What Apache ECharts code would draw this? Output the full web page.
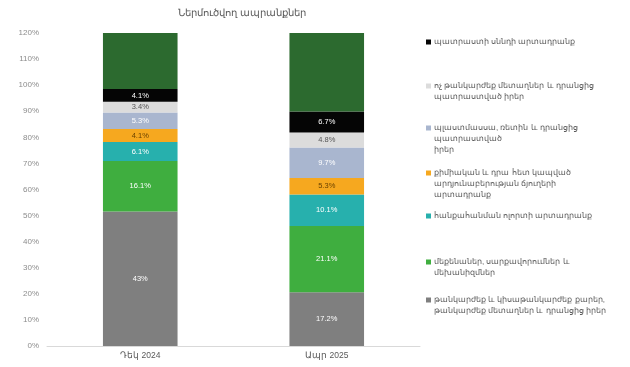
<!DOCTYPE html>
<html><head><meta charset="utf-8">
<script src="https://cdn.jsdelivr.net/npm/echarts@6/dist/echarts.min.js"></script>
<style>html,body{margin:0;padding:0;background:#fff}#c{width:630px;height:367px}</style>
</head><body><div id="c"></div>
<script>
const title = 'Ներմուծվող ապրանքներ';
const categories = ['Դեկ 2024', 'Ապր 2025'];
const yTickLabels = ['0%','10%','20%','30%','40%','50%','60%','70%','80%','90%','100%','110%','120%'];
const seriesNames = [
  'թանկարժեք և կիսաթանկարժեք քարեր, թանկարժեք մետաղներ և դրանցից իրեր',
  'մեքենաներ, սարքավորումներ և մեխանիզմներ',
  'հանքահանման ոլորտի արտադրանք',
  'քիմիական և դրա հետ կապված արդյունաբերության ճյուղերի արտադրանք',
  'պլաստմասսա, ռետին և դրանցից պատրաստված իրեր',
  'ոչ թանկարժեք մետաղներ և դրանցից պատրաստված իրեր',
  'պատրաստի սննդի արտադրանք',
  'այլ'
];
const legendText = [
  'թանկարժեք և կիսաթանկարժեք քարեր,\nթանկարժեք մետաղներ և դրանցից իրեր',
  'մեքենաներ, սարքավորումներ և\nմեխանիզմներ',
  'հանքահանման ոլորտի արտադրանք',
  'քիմիական և դրա հետ կապված\nարդյունաբերության ճյուղերի\nարտադրանք',
  'պլաստմասսա, ռետին և դրանցից\nպատրաստված\nիրեր',
  'ոչ թանկարժեք մետաղներ և դրանցից\nպատրաստված իրեր',
  'պատրաստի սննդի արտադրանք',
  'այլ'
];
const preciousStones = [43.0, 17.2];
const machinery = [16.1, 21.1];
const mining = [6.1, 10.1];
const chemical = [4.1, 5.3];
const plastics = [5.3, 9.7];
const baseMetals = [3.4, 4.8];
const food = [4.1, 6.7];
const other = [17.9, 25.1];
const seriesValues = [preciousStones, machinery, mining, chemical, plastics, baseMetals, food, other];
const colors = ['#7f7f7f','#3fae3f','#27b0ad','#f6a81f','#a9b6cf','#dcdcdc','#050505','#2c6a2f'];
const labelColors = ['#fff','#fff','#fff','#6b4300','#fff','#555','#fff',null];
const legendIconY = [300, 262, 216, 173, 128, 86, 42];
const LH = 11;

const series = seriesValues.map((vals, i) => ({
  name: seriesNames[i],
  type: 'bar',
  stack: 'total',
  barWidth: '40%',
  data: vals,
  itemStyle: { color: colors[i] },
  label: labelColors[i] ? {
    show: true, position: 'inside', color: labelColors[i], fontSize: 7.5,
    fontFamily: 'Liberation Sans', formatter: p => p.value + '%'
  } : { show: false }
}));

const legends = legendIconY.map((yc, i) => {
  const lines = legendText[i].split('\n').length;
  return {
    data: [seriesNames[i]],
    left: 426, top: yc - (2 * lines - 1) * LH / 2,
    padding: 0,
    orient: 'vertical',
    itemWidth: 5, itemHeight: 5, icon: 'rect',
    formatter: n => '\n'.repeat(lines - 1) + legendText[seriesNames.indexOf(n)],
    textStyle: { fontSize: 8, color: '#595959', fontFamily: 'Liberation Sans', lineHeight: LH,
      padding: [0, 0, 0, -2] }
  };
});

const chart = echarts.init(document.getElementById('c'));
chart.setOption({
  animation: false,
  title: { text: title, left: 237, textAlign: 'center', top: 3, textStyle: { fontSize: 10, fontWeight: 'normal', color: '#595959', fontFamily: 'Liberation Sans' } },
  legend: legends,
  grid: { left: 47, right: 210, top: 33, bottom: 21 },
  xAxis: {
    type: 'category', data: categories,
    axisLine: { lineStyle: { color: '#d9d9d9' } }, axisTick: { show: false },
    axisLabel: { fontSize: 8.5, color: '#595959', margin: 5, fontFamily: 'Liberation Sans' }
  },
  yAxis: {
    type: 'value', min: 0, max: 100, interval: 100 / 12,
    splitLine: { show: false }, axisLine: { show: false }, axisTick: { show: false },
    axisLabel: { fontSize: 8, color: '#8c8c8c', margin: 8, fontFamily: 'Liberation Sans',
      formatter: v => yTickLabels[Math.round(v * 12 / 100)] }
  },
  series: series
});
</script></body></html>
